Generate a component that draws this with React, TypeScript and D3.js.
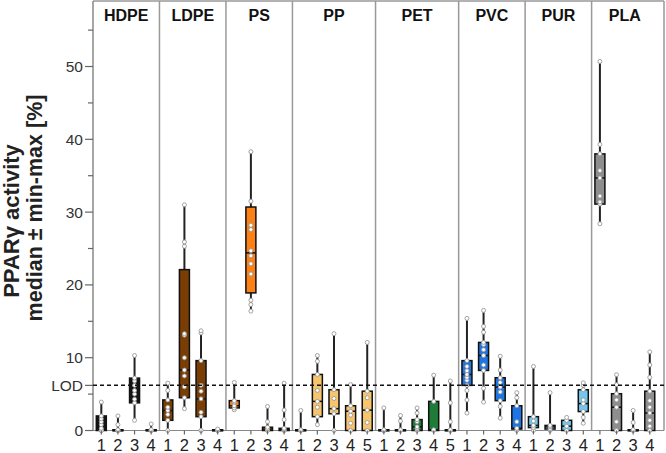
import React from 'react';
import * as d3 from 'd3';

// panels and their sub-groups
const panels = ['HDPE', 'LDPE', 'PS', 'PP', 'PET', 'PVC', 'PUR', 'PLA'];
const panelColors = ['#141414', '#7a3d04', '#fb8116', '#f7c66c', '#1e7b38', '#1d76e3', '#72c7ef', '#8e8e8e'];

// box stats per group: [min, q1, median, q3, max]
const hdpeBoxes = [[0, 0, 0.8, 2.0, 3.9], [0, 0, 0, 0.1, 2.0], [1.4, 3.8, 5.5, 7.2, 10.3], [0, 0, 0, 0.1, 0.9]];
const ldpeBoxes = [[0, 1.4, 2.75, 4.2, 6.5], [3.0, 4.5, 8.3, 22.1, 31.0], [0, 1.9, 4.35, 9.6, 13.7], [0, 0, 0, 0.1, 0.2]];
const psBoxes = [[2.85, 3.1, 3.4, 4.1, 6.6], [16.4, 18.9, 24.4, 30.7, 38.3], [0, 0, 0.2, 0.45, 3.3], [0, 0, 0.1, 0.3, 6.5]];
const ppBoxes = [[0, 0, 0, 0.1, 2.75], [0.8, 1.9, 4.0, 7.7, 10.3], [0, 2.3, 3.0, 5.6, 13.3], [0, 0, 2.65, 3.4, 6.3], [0, 0, 2.8, 5.4, 12.1]];
const petBoxes = [[0, 0, 0, 0.1, 3.1], [0, 0, 0, 0.1, 2.06], [0, 0, 0.5, 1.5, 3.1], [0, 0, 0.1, 4.0, 7.6], [0, 0, 0, 0.1, 6.8]];
const pvcBoxes = [[2.4, 6.2, 7.7, 9.6, 15.4], [3.9, 8.25, 10.3, 12.1, 16.5], [1.7, 4.1, 5.96, 7.25, 10.2], [0, 0.2, 0.3, 3.4, 5.2]];
const purBoxes = [[0, 0.4, 0.7, 1.9, 8.8], [0, 0.2, 0.5, 0.7, 5.2], [0, 0, 0.6, 1.4, 1.8], [1.0, 2.6, 3.7, 5.6, 6.55]];
const plaBoxes = [[28.4, 31.1, 34.7, 38.0, 50.7], [0, 0, 3.2, 5.05, 7.66], [0, 0, 0, 0.1, 2.75], [0, 0, 2.4, 5.4, 10.8]];

// individual replicates per group
const hdpePoints = [[0, 0, 0, 0.3, 0.8, 1.2, 1.6, 2.0, 3.9], [0, 0, 0, 0, 0.1, 0.8, 2.0], [1.4, 3.8, 4.3, 5.0, 5.5, 6.2, 6.8, 7.2, 10.3], [0, 0, 0, 0.1, 0.9]];
const ldpePoints = [[0, 1.4, 2.2, 2.75, 3.2, 4.2, 5.5, 6.5], [3.0, 4.5, 6.0, 7.5, 8.3, 10.0, 13.1, 13.3, 25.3, 25.9, 31.0], [0, 0, 1.9, 2.5, 4.35, 5.4, 6.2, 9.6, 13.4, 13.7], [0, 0, 0, 0.1, 0.2]];
const psPoints = [[2.85, 3.1, 3.4, 3.9, 4.1, 6.6], [16.4, 17.3, 17.9, 21.5, 22.9, 24.0, 24.7, 27.6, 28.2, 31.5, 38.3], [0, 0, 0.2, 0.45, 1.2, 3.3], [0, 0, 0.1, 0.3, 1.5, 2.8, 6.5]];
const ppPoints = [[0, 0, 0, 0.1, 2.75], [0.8, 1.9, 3.2, 4.0, 5.5, 7.7, 9.5, 10.3], [0, 2.3, 3.0, 4.4, 5.6, 13.3], [0, 0, 1.0, 2.1, 2.65, 3.4, 6.3], [0, 1.1, 2.8, 4.5, 5.4, 12.1]];
const petPoints = [[0, 0, 0, 0.1, 3.1], [0, 0, 0.1, 1.3, 2.06], [0, 0.3, 0.5, 1.2, 1.5, 2.4, 3.1], [0, 0.1, 4.0, 7.6], [0, 0, 0.1, 1.2, 3.8, 6.8]];
const pvcPoints = [[2.4, 4.2, 5.5, 6.2, 6.9, 7.3, 7.7, 8.2, 8.8, 9.6, 15.4], [3.9, 5.8, 8.25, 9.0, 10.3, 11.1, 11.8, 12.1, 13.5, 14.3, 16.5], [1.7, 3.3, 4.1, 5.3, 5.96, 6.6, 7.25, 8.3, 10.2], [0, 0.3, 1.2, 3.4, 4.5, 5.2]];
const purPoints = [[0, 0.4, 0.7, 1.3, 1.9, 8.8], [0, 0.2, 0.5, 0.7, 5.2], [0, 0.6, 1.4, 1.8], [1.0, 1.8, 2.6, 3.7, 4.2, 5.6, 6.2, 6.55]];
const plaPoints = [[28.4, 31.1, 31.4, 32.2, 34.7, 35.7, 38.0, 39.3, 50.7], [0, 0, 1.2, 3.2, 4.2, 5.05, 6.3, 7.66], [0, 0, 0.1, 1.1, 2.75], [0, 0.6, 1.4, 2.4, 3.2, 4.1, 5.4, 7.3, 9.0, 10.8]];

const yMajorTicks = [0, 10, 20, 30, 40, 50];
const yMinorTicks = [5, 15, 25, 35, 45, 55];
const LOD = 6.2;

const allBoxes = [hdpeBoxes, ldpeBoxes, psBoxes, ppBoxes, petBoxes, pvcBoxes, purBoxes, plaBoxes];
const allPoints = [hdpePoints, ldpePoints, psPoints, ppPoints, petPoints, pvcPoints, purPoints, plaPoints];

const W = 666;
const H = 453;
const left = 93;
const right = 664;
const top = 1;
const font = '"Liberation Sans", Arial, sans-serif';

export default function App() {
  // flatten into slots
  const slots: { key: string; panel: number; label: string; box: number[]; pts: number[] }[] = [];
  allBoxes.forEach((boxes, p) => {
    boxes.forEach((b, i) => {
      slots.push({ key: `${p}-${i}`, panel: p, label: String(i + 1), box: b, pts: allPoints[p][i] });
    });
  });

  const x = d3.scaleBand<string>()
    .domain(slots.map(s => s.key))
    .range([left, left + slots.length * 16.62])
    .paddingInner(0);
  const y = d3.scaleLinear().domain([0, 59]).range([430.5, top]);
  const bw = 10;

  // divider positions between panels
  const dividers: number[] = [];
  const panelCenters: number[] = [];
  panels.forEach((_, p) => {
    const ks = slots.filter(s => s.panel === p).map(s => s.key);
    const x0 = x(ks[0])!;
    const x1 = p === panels.length - 1 ? right - 6 : x(ks[ks.length - 1])! + x.bandwidth();
    panelCenters.push((x0 + x1) / 2);
    if (p > 0) dividers.push(x0);
  });

  return (
    <svg width={W} height={H} style={{ position: 'fixed', left: 0, top: 0, background: '#fff' }} fontFamily={font}>
      {/* frame */}
      <line x1={left} x2={right} y1={top} y2={top} stroke="#999" strokeWidth={1.5} />
      <line x1={right} x2={right} y1={top} y2={y(0)} stroke="#999" strokeWidth={1.5} />
      {dividers.map((d, i) => (
        <line key={i} x1={d} x2={d} y1={top} y2={y(0)} stroke="#999" strokeWidth={1.5} />
      ))}
      {/* y axis */}
      <line x1={left} x2={left} y1={top} y2={y(0)} stroke="#888" strokeWidth={1.5} />
      {yMajorTicks.map(t => (
        <g key={t}>
          <line x1={left - 8} x2={left} y1={y(t)} y2={y(t)} stroke="#666" strokeWidth={1.2} />
          <text x={left - 10} y={y(t)} dy="0.35em" textAnchor="end" fontSize={15.5} fill="#333">{t}</text>
        </g>
      ))}
      {yMinorTicks.map(t => (
        <line key={t} x1={left - 5} x2={left} y1={y(t)} y2={y(t)} stroke="#666" strokeWidth={1.2} />
      ))}
      <line x1={left - 8} x2={left} y1={y(LOD)} y2={y(LOD)} stroke="#666" strokeWidth={1.2} />
      <text x={left - 10} y={y(LOD)} dy="0.35em" textAnchor="end" fontSize={15.5} fill="#333">LOD</text>

      {/* y title */}
      <text transform={`translate(19,221) rotate(-90)`} textAnchor="middle" fontSize={22} fontWeight="bold" fill="#222">PPARγ activity</text>
      <text transform={`translate(42,208) rotate(-90)`} textAnchor="middle" fontSize={21.5} fontWeight="bold" fill="#222">median ± min-max [%]</text>

      {/* x baseline */}
      <line x1={left} x2={right} y1={y(0)} y2={y(0)} stroke="#888" strokeWidth={1.2} />

      {/* panel headers */}
      {panels.map((p, i) => (
        <text key={p} x={panelCenters[i]} y={21} textAnchor="middle" fontSize={16} fontWeight="bold" fill="#111">{p}</text>
      ))}

      {/* boxes */}
      {slots.map(s => {
        const cx = x(s.key)! + x.bandwidth() / 2;
        const [mn, q1, md, q3, mx] = s.box;
        return (
          <g key={s.key}>
            <line x1={cx} x2={cx} y1={y(mn)} y2={y(mx)} stroke="#222" strokeWidth={2} />
            <rect x={cx - bw / 2} y={y(q3)} width={bw} height={Math.max(y(q1) - y(q3), 1)}
              fill={panelColors[s.panel]} stroke="#111" strokeWidth={1.5} />
            <line x1={cx - bw / 2} x2={cx + bw / 2} y1={y(md)} y2={y(md)} stroke="#111" strokeWidth={1.5} />
            {s.pts.map((v, j) => (
              <circle key={j} cx={cx} cy={y(v)} r={2} fill="#fff" stroke="#999" strokeWidth={0.9} />
            ))}
            <line x1={cx} x2={cx} y1={y(0)} y2={y(0) + 4} stroke="#666" strokeWidth={1.2} />
            <text x={cx} y={451} textAnchor="middle" fontSize={16.5} fill="#222">{s.label}</text>
          </g>
        );
      })}

      {/* LOD line */}
      <line x1={left} x2={right} y1={y(LOD)} y2={y(LOD)} stroke="#111" strokeWidth={1.5} strokeDasharray="4,3" />
    </svg>
  );
}
